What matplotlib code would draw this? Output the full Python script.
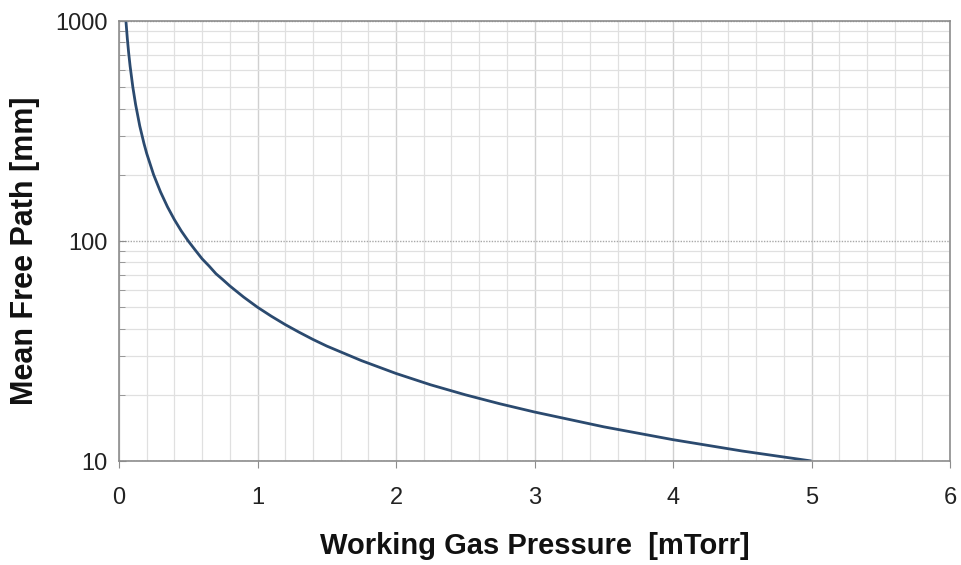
import matplotlib
matplotlib.use("Agg")
import matplotlib.pyplot as plt
from matplotlib.ticker import FixedLocator, NullFormatter, LogLocator, MultipleLocator

pressure = [0.05, 0.06, 0.07, 0.08, 0.1, 0.12, 0.15, 0.18, 0.2, 0.25, 0.3, 0.35, 0.4, 0.45, 0.5,
            0.55, 0.6, 0.65, 0.7, 0.75, 0.8, 0.9, 1.0, 1.1, 1.2, 1.3, 1.4, 1.5, 1.75, 2.0, 2.25,
            2.5, 2.75, 3.0, 3.5, 4.0, 4.5, 5.0]
mean_free_path = [1000, 833, 714, 625, 500, 417, 333, 278, 250, 200, 167, 143, 125, 111, 100,
                  91, 83, 77, 71, 66.7, 62.5, 55.6, 50, 45.5, 41.7, 38.5, 35.7, 33.3, 28.6, 25, 22.2,
                  20, 18.2, 16.7, 14.3, 12.5, 11.1, 10]

x_ticks = [0, 1, 2, 3, 4, 5, 6]
y_ticks = [10, 100, 1000]
y_tick_labels = ["10", "100", "1000"]

plt.rcParams['font.family'] = ['Liberation Sans', 'DejaVu Sans']

fig = plt.figure(figsize=(9.61, 5.65), dpi=100)
ax = fig.add_axes([119/961, 1 - 461/565, (950-119)/961, (461-21)/565])

ax.set_yscale('log')
ax.set_xlim(0, 6)
ax.set_ylim(10, 1000)

ax.xaxis.set_major_locator(FixedLocator(x_ticks))
ax.xaxis.set_minor_locator(MultipleLocator(0.2))
ax.yaxis.set_major_locator(FixedLocator(y_ticks))
ax.set_yticklabels(y_tick_labels)
ax.yaxis.set_minor_locator(LogLocator(base=10, subs=range(2, 10)))
ax.yaxis.set_minor_formatter(NullFormatter())

ax.grid(which='minor', color='#e0e0e0', linewidth=0.9)
ax.grid(which='major', axis='x', color='#d0d0d0', linewidth=1.0)
ax.grid(which='major', axis='y', color='#a8a8a8', linewidth=1.0, linestyle=(0, (1, 1)))
ax.set_axisbelow(True)

ax.plot(pressure, mean_free_path, color='#2b4a6f', linewidth=2.0, solid_capstyle='butt')

for s in ax.spines.values():
    s.set_color('#8c8c8c')
    s.set_linewidth(1.2)

ax.tick_params(axis='x', which='major', direction='out', length=5, color='#8c8c8c',
               labelsize=17, pad=14, labelcolor='#222222')
ax.tick_params(axis='x', which='minor', length=0)
ax.tick_params(axis='y', which='major', direction='in', length=5, color='#8c8c8c',
               labelsize=17, pad=8, labelcolor='#222222')
ax.tick_params(axis='y', which='minor', direction='in', length=4, color='#8c8c8c')

ax.set_xlabel('Working Gas Pressure  [mTorr]', fontsize=21, fontweight='bold', labelpad=16, color='#111111')
ax.set_ylabel('Mean Free Path [mm]', fontsize=22, fontweight='bold', color='#111111',
              va='center', ha='center')
ax.yaxis.set_label_coords(-0.113, 0.477)

fig.savefig('out.png', dpi=100)
